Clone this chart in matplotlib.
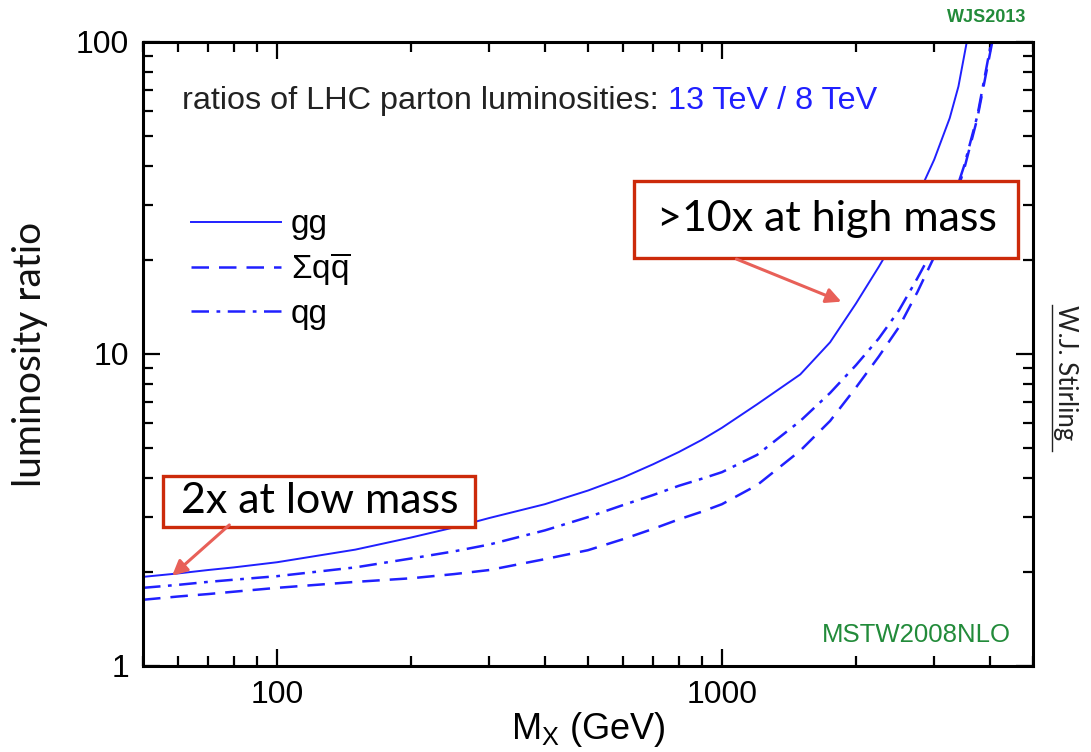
import matplotlib
matplotlib.use('Agg')
import matplotlib.pyplot as plt
from matplotlib.ticker import LogLocator, FuncFormatter, NullFormatter
from matplotlib.lines import Line2D
from matplotlib.patches import Rectangle

# Data (ratio of 13 TeV / 8 TeV parton luminosities)
mass_gg = [50, 60, 70, 80, 100, 150, 200, 250, 300, 400, 500, 600, 700, 800, 900, 1000,
           1200, 1500, 1750, 2000, 2250, 2500, 2750, 3000, 3250, 3400, 3550]
ratio_gg = [1.93, 1.98, 2.03, 2.07, 2.15, 2.36, 2.58, 2.78, 2.98, 3.3, 3.65, 4.02, 4.43, 4.85, 5.3, 5.8,
            6.9, 8.6, 10.9, 14.5, 19, 24.5, 32, 42, 57, 72, 100]

mass_qq = [50, 60, 70, 80, 100, 150, 200, 250, 300, 400, 500, 600, 700, 800, 900, 1000,
           1200, 1500, 1750, 2000, 2250, 2500, 2750, 3000, 3250, 3500, 3750, 4050]
ratio_qq = [1.63, 1.67, 1.70, 1.73, 1.78, 1.86, 1.91, 1.97, 2.03, 2.2, 2.35, 2.55, 2.75, 2.95, 3.12, 3.3,
            3.8, 4.9, 6.1, 7.8, 9.8, 12.2, 15.8, 20.5, 28, 39, 57, 100]

mass_qg = [50, 60, 70, 80, 100, 150, 200, 250, 300, 400, 500, 600, 700, 800, 900, 1000,
           1200, 1500, 1750, 2000, 2250, 2500, 2750, 3000, 3250, 3500, 3750, 4030]
ratio_qg = [1.78, 1.82, 1.86, 1.89, 1.94, 2.07, 2.21, 2.33, 2.45, 2.72, 3.0, 3.28, 3.53, 3.78, 3.98, 4.18,
            4.75, 6.1, 7.5, 9.2, 11.2, 13.8, 17.5, 22, 29, 40, 58, 100]

labels = ['gg', r'$\mathregular{\Sigma q\overline{q}}$', 'qg']

narrow = ['Liberation Sans Narrow', 'Liberation Sans', 'DejaVu Sans']
light = ['Lato', 'Liberation Sans', 'DejaVu Sans']
blue = '#2020ff'
green = '#228b3a'
red = '#cc2a0a'
arrow_red = '#e86058'

fig = plt.figure(figsize=(10.91, 7.52), dpi=100)
ax = fig.add_axes([0.1311, 0.1144, 0.8157, 0.8298])

ax.plot(mass_gg, ratio_gg, color=blue, lw=1.4, label=labels[0])
ax.plot(mass_qq, ratio_qq, color=blue, lw=1.8, dashes=(7, 4), label=labels[1])
ax.plot(mass_qg, ratio_qg, color=blue, lw=1.8, dashes=(7, 3, 1.5, 3), label=labels[2])

ax.set_xscale('log')
ax.set_yscale('log')
ax.set_xlim(50, 5000)
ax.set_ylim(1, 100)

fmt = FuncFormatter(lambda v, p: '%g' % v)
for axis in (ax.xaxis, ax.yaxis):
    axis.set_major_locator(LogLocator(base=10))
    axis.set_minor_locator(LogLocator(base=10, subs=range(2, 10)))
    axis.set_major_formatter(fmt)
    axis.set_minor_formatter(NullFormatter())

ax.tick_params(which='both', direction='in', top=True, right=True, width=1.6, colors='black')
ax.tick_params(which='major', length=12, labelsize=23, pad=10)
ax.tick_params(which='minor', length=7)
for lab in ax.get_xticklabels() + ax.get_yticklabels():
    lab.set_family(narrow)
for sp in ax.spines.values():
    sp.set_linewidth(2.2)

ax.set_xlabel(r'M$_\mathregular{X}$ (GeV)', fontsize=26, family=narrow, labelpad=0)
ax.set_ylabel('luminosity ratio', fontsize=28, family=light, color='#111111', labelpad=20)

# header text in two colours
t1 = ax.text(0.044, 0.905, 'ratios of LHC parton luminosities: ', transform=ax.transAxes,
             fontsize=23.3, family=narrow, color='#222222', va='center')
fig.canvas.draw()
bb = t1.get_window_extent().transformed(ax.transAxes.inverted())
ax.text(bb.x1, 0.905, '13 TeV / 8 TeV', transform=ax.transAxes,
        fontsize=23.3, family=narrow, color=blue, va='center')

leg = ax.legend(loc='upper left', bbox_to_anchor=(0.02, 0.78), frameon=False,
                handlelength=2.7, handletextpad=0.3, labelspacing=0.32,
                prop={'family': narrow, 'size': 24})

ax.text(0.975, 0.05, 'MSTW2008NLO', transform=ax.transAxes, ha='right', va='center',
        fontsize=18.5, color=green, family=['Liberation Sans', 'DejaVu Sans'])
fig.text(0.941, 0.977, 'WJS2013', ha='right', va='center', fontsize=13, color=green,
         family=['Liberation Sans', 'DejaVu Sans'], weight='bold')
fig.text(0.977, 0.505, 'W.J. Stirling', rotation=-90, ha='center', va='center',
         fontsize=18.5, color='#222222', family=light)
fig.add_artist(Line2D([0.9645, 0.9645], [0.40, 0.595], transform=fig.transFigure,
                      color='#222222', lw=1))

# callout boxes and arrows
ax.add_patch(Rectangle((0.0225, 0.2228), 0.3505, 0.0817, transform=ax.transAxes,
                       facecolor='white', edgecolor=red, lw=2.4, zorder=5))
ax.text(0.199, 0.264, '2x at low mass', transform=ax.transAxes, ha='center', va='center',
        fontsize=31, family=light, color='black', zorder=6)
ax.add_patch(Rectangle((0.5517, 0.6538), 0.4314, 0.1234, transform=ax.transAxes,
                       facecolor='white', edgecolor=red, lw=2.4, zorder=5))
ax.text(0.769, 0.716, '>10x at high mass', transform=ax.transAxes, ha='center', va='center',
        fontsize=31, family=light, color='black', zorder=6)

arrow = dict(arrowstyle='-|>,head_length=0.9,head_width=0.45', color=arrow_red, lw=2.2)
ax.annotate('', xy=(57.5, 1.92), xytext=(79, 2.87), arrowprops=arrow, zorder=7)
ax.annotate('', xy=(1880, 14.6), xytext=(1064, 20.3), arrowprops=arrow, zorder=7)

fig.savefig('out.png', dpi=100)
